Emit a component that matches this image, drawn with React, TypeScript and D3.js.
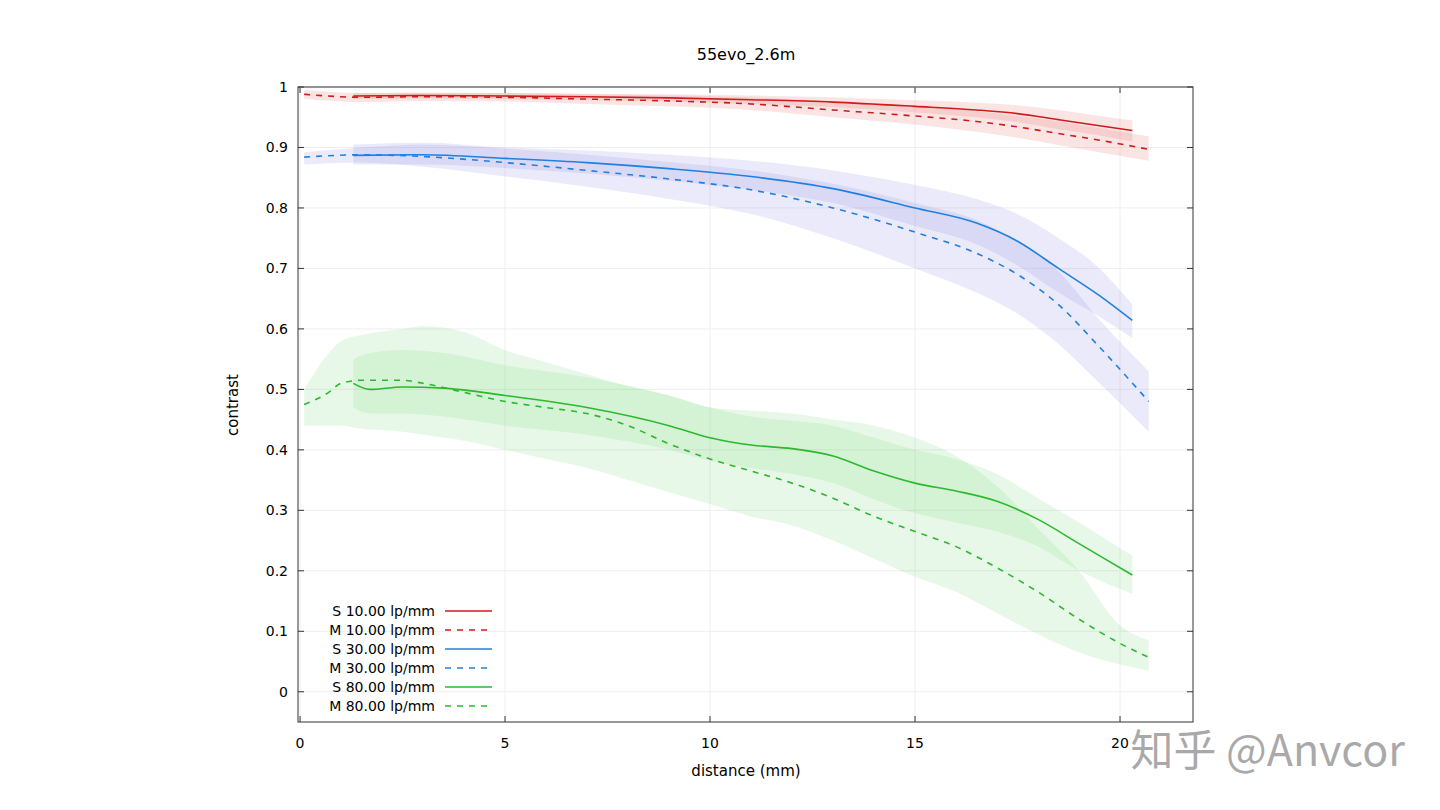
import React from "react";
import * as d3 from "d3";

// x positions (mm) and contrast values
const sX = [1.3, 3, 5, 7, 9, 11, 13, 15, 16.5, 17.5, 18.5, 19.5, 20.3];
const mX = [0.1, 1.5, 3, 5, 7, 9, 11, 13, 15, 16.5, 17.5, 18.5, 19.5, 20.7];

const redS = [0.985, 0.986, 0.985, 0.984, 0.982, 0.979, 0.975, 0.968, 0.962, 0.956, 0.946, 0.936, 0.928];
const redSHi = [0.99, 0.991, 0.99, 0.989, 0.988, 0.986, 0.983, 0.978, 0.974, 0.97, 0.962, 0.952, 0.945];
const redSLo = [0.98, 0.981, 0.98, 0.978, 0.976, 0.972, 0.967, 0.958, 0.95, 0.942, 0.93, 0.92, 0.91];
const redM = [0.988, 0.983, 0.984, 0.983, 0.98, 0.977, 0.972, 0.962, 0.952, 0.943, 0.934, 0.923, 0.912, 0.897];
const redMHi = [0.995, 0.99, 0.99, 0.99, 0.988, 0.986, 0.983, 0.976, 0.968, 0.96, 0.952, 0.943, 0.932, 0.918];
const redMLo = [0.98, 0.975, 0.977, 0.976, 0.972, 0.968, 0.962, 0.95, 0.938, 0.926, 0.916, 0.904, 0.892, 0.878];

const blueS = [0.887, 0.888, 0.882, 0.875, 0.865, 0.852, 0.832, 0.8, 0.775, 0.745, 0.7, 0.655, 0.614];
const blueSHi = [0.905, 0.908, 0.9, 0.895, 0.888, 0.878, 0.862, 0.838, 0.815, 0.79, 0.75, 0.7, 0.64];
const blueSLo = [0.872, 0.872, 0.866, 0.857, 0.845, 0.83, 0.808, 0.77, 0.74, 0.705, 0.66, 0.62, 0.585];
const blueM = [0.884, 0.888, 0.885, 0.875, 0.862, 0.848, 0.83, 0.8, 0.76, 0.725, 0.69, 0.64, 0.57, 0.48];
const blueMHi = [0.892, 0.9, 0.905, 0.898, 0.888, 0.876, 0.862, 0.84, 0.808, 0.78, 0.745, 0.695, 0.615, 0.53];
const blueMLo = [0.872, 0.875, 0.868, 0.852, 0.835, 0.815, 0.79, 0.75, 0.7, 0.66, 0.625, 0.575, 0.51, 0.43];

const gX = [1.3, 1.7, 2.5, 3.5, 5, 7, 9, 10, 11, 12, 13, 14, 15, 16, 17, 18, 19, 20.3];
const greenS = [0.51, 0.5, 0.504, 0.502, 0.49, 0.47, 0.44, 0.42, 0.408, 0.402, 0.39, 0.365, 0.345, 0.332, 0.315, 0.285, 0.245, 0.193];
const greenSHi = [0.55, 0.56, 0.565, 0.56, 0.54, 0.52, 0.49, 0.47, 0.455, 0.448, 0.44, 0.42, 0.4, 0.385, 0.36, 0.32, 0.28, 0.225];
const greenSLo = [0.47, 0.46, 0.46, 0.455, 0.44, 0.425, 0.4, 0.382, 0.37, 0.36, 0.345, 0.318, 0.295, 0.28, 0.265, 0.24, 0.2, 0.162];
const gmX = [0.1, 0.7, 1, 1.5, 2.5, 3, 4, 5, 6, 7, 8, 9, 10, 11, 12, 13, 14, 15, 16, 17, 18, 19, 20, 20.7];
const greenM = [0.475, 0.495, 0.51, 0.515, 0.515, 0.51, 0.495, 0.48, 0.47, 0.46, 0.44, 0.41, 0.385, 0.365, 0.345, 0.32, 0.29, 0.265, 0.24, 0.205, 0.165, 0.12, 0.08, 0.057];
const greenMHi = [0.5, 0.56, 0.58, 0.59, 0.6, 0.605, 0.595, 0.565, 0.545, 0.525, 0.505, 0.49, 0.47, 0.465, 0.46, 0.45, 0.44, 0.42, 0.39, 0.34, 0.27, 0.2, 0.11, 0.085];
const greenMLo = [0.44, 0.44, 0.44, 0.435, 0.43, 0.425, 0.415, 0.4, 0.385, 0.37, 0.35, 0.33, 0.31, 0.29, 0.275, 0.25, 0.22, 0.19, 0.165, 0.13, 0.095, 0.065, 0.045, 0.035];

const xTicks = [0, 5, 10, 15, 20];
const yTicks = [0, 0.1, 0.2, 0.3, 0.4, 0.5, 0.6, 0.7, 0.8, 0.9, 1];

const series = [
  { label: "S 10.00 lp/mm", x: sX, v: redS, hi: redSHi, lo: redSLo, color: "#cc1c1c", band: "rgba(230,120,120,0.2)", dash: "" },
  { label: "M 10.00 lp/mm", x: mX, v: redM, hi: redMHi, lo: redMLo, color: "#cc1c1c", band: "rgba(230,120,120,0.2)", dash: "6,6" },
  { label: "S 30.00 lp/mm", x: sX, v: blueS, hi: blueSHi, lo: blueSLo, color: "#1f80e0", band: "rgba(150,150,230,0.2)", dash: "" },
  { label: "M 30.00 lp/mm", x: mX, v: blueM, hi: blueMHi, lo: blueMLo, color: "#1f80e0", band: "rgba(150,150,230,0.2)", dash: "6,6" },
  { label: "S 80.00 lp/mm", x: gX, v: greenS, hi: greenSHi, lo: greenSLo, color: "#2db82d", band: "rgba(100,210,100,0.15)", dash: "" },
  { label: "M 80.00 lp/mm", x: gmX, v: greenM, hi: greenMHi, lo: greenMLo, color: "#2db82d", band: "rgba(100,210,100,0.15)", dash: "6,6" },
];

const App = () => {
  const left = 298, right = 1193, top = 87, bottom = 722;
  const xScale = d3.scaleLinear().domain([-0.05, 21.78]).range([left, right]);
  const yScale = d3.scaleLinear().domain([-0.05, 1]).range([bottom, top]);
  const font = "DejaVu Sans, sans-serif";

  const line = (xs: number[], ys: number[]) =>
    d3.line<number>().x((_, i) => xScale(xs[i])).y((d) => yScale(d)).curve(d3.curveMonotoneX)(ys) || "";
  const area = (xs: number[], hi: number[], lo: number[]) =>
    d3.area<number>().x((_, i) => xScale(xs[i])).y0((_, i) => yScale(lo[i])).y1((d) => yScale(d)).curve(d3.curveMonotoneX)(hi) || "";

  return (
    <svg width={1440} height={810} style={{ position: "absolute", left: 0, top: 0, background: "#fff" }} fontFamily={font}>
      <text x={746} y={60} textAnchor="middle" fontSize={16}>55evo_2.6m</text>
      {xTicks.map((t) => (
        <g key={"x" + t}>
          <line x1={xScale(t)} x2={xScale(t)} y1={top} y2={bottom} stroke="#eee" />
          <line x1={xScale(t)} x2={xScale(t)} y1={bottom} y2={bottom - 6} stroke="#333" />
          <line x1={xScale(t)} x2={xScale(t)} y1={top} y2={top + 6} stroke="#333" />
          <text x={xScale(t)} y={748} textAnchor="middle" fontSize={14}>{t}</text>
        </g>
      ))}
      {yTicks.map((t) => (
        <g key={"y" + t}>
          <line x1={left} x2={right} y1={yScale(t)} y2={yScale(t)} stroke="#eee" />
          <line x1={left} x2={left + 6} y1={yScale(t)} y2={yScale(t)} stroke="#333" />
          <line x1={right} x2={right - 6} y1={yScale(t)} y2={yScale(t)} stroke="#333" />
          <text x={288} y={yScale(t) + 5} textAnchor="end" fontSize={14}>{t}</text>
        </g>
      ))}
      {series.map((s) => (
        <path key={"b" + s.label} d={area(s.x, s.hi, s.lo)} fill={s.band} stroke="none" />
      ))}
      {series.map((s) => (
        <path key={"l" + s.label} d={line(s.x, s.v)} fill="none" stroke={s.color} strokeWidth={1.6} strokeDasharray={s.dash} />
      ))}
      <rect x={left} y={top} width={right - left} height={bottom - top} fill="none" stroke="#333" />
      {series.map((s, i) => {
        const y = 611 + i * 19;
        return (
          <g key={"g" + s.label}>
            <text x={435} y={y + 5} textAnchor="end" fontSize={14}>{s.label}</text>
            <line x1={445} x2={492} y1={y} y2={y} stroke={s.color} strokeWidth={1.6} strokeDasharray={s.dash} />
          </g>
        );
      })}
      <text x={746} y={776} textAnchor="middle" fontSize={15}>distance (mm)</text>
      <text transform="translate(238,405) rotate(-90)" textAnchor="middle" fontSize={15}>contrast</text>
      <text x={1405} y={766} textAnchor="end" fontSize={43} fill="#9a9a9a" fillOpacity={0.85} fontFamily="Noto Sans CJK SC, sans-serif">知乎 @Anvcor</text>
    </svg>
  );
};

export default App;
